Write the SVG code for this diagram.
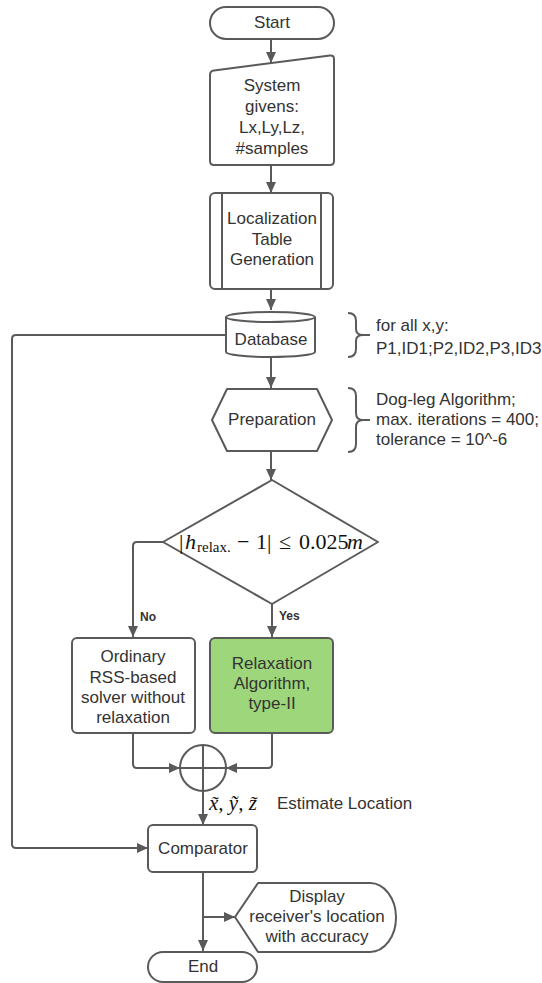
<svg xmlns="http://www.w3.org/2000/svg" width="542" height="983" viewBox="0 0 542 983">
<style>
.s{fill:#fff;stroke:#5a5a5a;stroke-width:2;stroke-linejoin:round}
.c{fill:none;stroke:#5a5a5a;stroke-width:2}
.t{font-family:"Liberation Sans",Arial,sans-serif;font-size:17px;fill:#333;text-anchor:middle;dominant-baseline:central}
.n{font-family:"Liberation Sans",Arial,sans-serif;font-size:17px;fill:#333;dominant-baseline:central}
.b{font-family:"Liberation Sans",Arial,sans-serif;font-size:12px;font-weight:bold;fill:#333;dominant-baseline:central}
.m{font-family:"Liberation Serif","Times New Roman",serif;fill:#111}
</style>
<defs>
<marker id="ah" markerUnits="userSpaceOnUse" markerWidth="11" markerHeight="10" refX="11" refY="5" orient="auto">
<path d="M0,0 L11,5 L0,10 z" fill="#5a5a5a"/>
</marker>
</defs>
<rect width="542" height="983" fill="#fff"/>
<g id="connectors">
<path class="c" d="M271,39 V63" marker-end="url(#ah)"/>
<path class="c" d="M271,165 V193" marker-end="url(#ah)"/>
<path class="c" d="M271,289 V310" marker-end="url(#ah)"/>
<path class="c" d="M271,357 V388" marker-end="url(#ah)"/>
<path class="c" d="M271,451 V480" marker-end="url(#ah)"/>
<path class="c" d="M226,335 H16 Q12,335 12,339 V844 Q12,848 16,848 H148" marker-end="url(#ah)"/>
<path class="c" d="M163,542 H137 Q133,542 133,546 V637" marker-end="url(#ah)"/>
<path class="c" d="M272,604 V637" marker-end="url(#ah)"/>
<path class="c" d="M133,733 V764 Q133,768 137,768 H180" marker-end="url(#ah)"/>
<path class="c" d="M272,733 V764 Q272,768 268,768 H226" marker-end="url(#ah)"/>
<path class="c" d="M203,791 V825" marker-end="url(#ah)"/>
<path class="c" d="M203,872 V951" marker-end="url(#ah)"/>
<path class="c" d="M203,917 H235" marker-end="url(#ah)"/>
<text class="b" x="140" y="617">No</text>
<text class="b" x="279" y="616">Yes</text>
</g>
<g id="start">
<rect class="s" x="210" y="7" width="124" height="32" rx="16"/>
<text class="t" x="272" y="22">Start</text>
</g>
<g id="system-givens">
<path class="s" d="M210,75 Q210,71 214,70.5 L330,55.5 Q334,55 334,59 V161 Q334,165 330,165 H214 Q210,165 210,161 Z"/>
<text class="t" x="272" y="85">System</text>
<text class="t" x="272" y="106">givens:</text>
<text class="t" x="272" y="127">Lx,Ly,Lz,</text>
<text class="t" x="272" y="148">#samples</text>
</g>
<g id="localization">
<rect class="s" x="210" y="193" width="123" height="96" rx="5"/>
<path class="c" d="M222,193 V289 M321,193 V289"/>
<text class="t" x="272" y="218">Localization</text>
<text class="t" x="272" y="239">Table</text>
<text class="t" x="272" y="259">Generation</text>
</g>
<g id="database">
<path class="s" d="M226,317 A44.5,5 0 0 1 315,317 V352 A44.5,5 0 0 1 226,352 Z"/>
<path class="c" d="M226,317 A44.5,5 0 0 0 315,317"/>
<text class="t" x="271" y="339">Database</text>
</g>
<g id="database-note">
<path class="c" d="M348,313 Q356,313 356,321 V329 Q356,335 363,335 H370 M363,335 Q356,335 356,341 V349 Q356,357 348,357"/>
<text class="n" x="376" y="325">for all x,y:</text>
<text class="n" x="376" y="348">P1,ID1;P2,ID2,P3,ID3</text>
</g>
<g id="preparation">
<path class="s" d="M212,420 L227,389 H317 L332,420 L317,451 H227 Z"/>
<text class="t" x="272" y="419">Preparation</text>
</g>
<g id="preparation-note">
<path class="c" d="M348,388 Q356,388 356,396 V413 Q356,420 363,420 H370 M363,420 Q356,420 356,427 V444 Q356,452 348,452"/>
<text class="n" x="376" y="399">Dog-leg Algorithm;</text>
<text class="n" x="376" y="419">max. iterations = 400;</text>
<text class="n" x="376" y="439">tolerance = 10^-6</text>
</g>
<g id="decision">
<path class="s" d="M272,480 L378,542 L272,604 L163,542 Z"/>
<text class="m" font-size="22" y="549"><tspan x="179">|</tspan><tspan x="185" font-style="italic">h</tspan><tspan x="197" y="552" font-size="15">relax.</tspan><tspan x="237" y="549">−</tspan><tspan x="256">1|</tspan><tspan x="279">≤</tspan><tspan x="299">0.025</tspan><tspan x="347" font-style="italic">m</tspan></text>
</g>
<g id="ordinary">
<rect class="s" x="72" y="638" width="123" height="95" rx="5"/>
<text class="t" x="133" y="656">Ordinary</text>
<text class="t" x="133" y="677">RSS-based</text>
<text class="t" x="133" y="697">solver without</text>
<text class="t" x="133" y="717">relaxation</text>
</g>
<g id="relaxation">
<rect class="s" x="210" y="638" width="123" height="95" rx="5" style="fill:#9ed67b"/>
<text class="t" x="272" y="663">Relaxation</text>
<text class="t" x="272" y="683">Algorithm,</text>
<text class="t" x="272" y="703">type-II</text>
</g>
<g id="sum">
<circle class="s" cx="203" cy="768" r="23"/>
<path class="c" d="M180,768 H226 M203,745 V791"/>
</g>
<g id="estimate-label">
<text class="m" font-size="21" font-style="italic" x="209" y="810">x̃, ỹ, z̃</text>
<text class="n" x="277" y="803">Estimate Location</text>
</g>
<g id="comparator">
<rect class="s" x="148" y="825" width="109" height="47" rx="5"/>
<text class="t" x="203" y="848">Comparator</text>
</g>
<g id="display">
<path class="s" d="M235,917 L258,883 H370 A26,34.5 0 0 1 370,952 H258 Z"/>
<text class="t" x="317" y="896">Display</text>
<text class="t" x="317" y="916">receiver's location</text>
<text class="t" x="317" y="936">with accuracy</text>
</g>
<g id="end">
<rect class="s" x="148" y="952" width="109" height="30" rx="15"/>
<text class="t" x="203" y="966">End</text>
</g>
</svg>
